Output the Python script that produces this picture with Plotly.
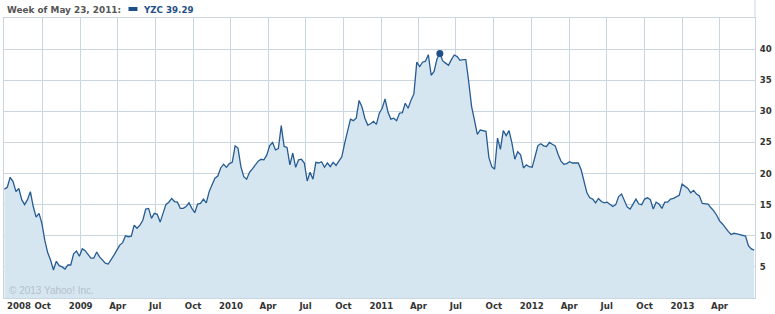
import pandas as pd
import plotly.graph_objects as go

# ---- data (weekly closes) ----
start_week = "2008-06-30"
prices = [
    17.5, 17.8, 19.4, 18.7, 17.1, 17.6, 15.8, 15.0, 15.8, 17.1,
    14.7, 13.0, 13.6, 12.0, 9.3, 7.3, 6.1, 4.5, 5.9, 5.2,
    5.0, 4.65, 5.3, 5.3, 7.1, 7.55, 6.7, 7.9, 7.6, 6.9,
    6.4, 6.4, 7.4, 6.6, 6.1, 5.6, 5.45, 6.1, 6.9, 7.7,
    8.5, 8.9, 10.0, 9.85, 9.95, 11.7, 11.2, 11.7, 12.5, 14.3,
    14.4, 12.8, 13.6, 13.45, 12.2, 13.6, 15.0, 15.4, 16.0, 15.5,
    15.4, 14.4, 14.4, 14.7, 15.3, 14.4, 13.7, 15.1,
    15.2, 15.9, 15.3, 17.1, 18.2, 19.25, 19.6, 20.9, 21.5, 21.0,
    21.6, 21.8, 24.45, 24.1, 21.1, 19.5, 19.1, 20.2, 20.75, 21.4,
    22.0, 22.3, 22.2, 23.0, 24.5, 25.0, 23.8, 24.0, 27.7, 24.35,
    24.2, 21.4, 23.3, 21.0, 22.2, 22.3, 21.7, 18.8, 20.2, 19.1,
    21.8, 21.7, 21.9, 21.0, 21.7, 21.1, 21.8, 21.3, 21.9, 22.7,
    24.9, 27.0, 28.75, 28.5, 28.9, 31.75, 30.7, 28.9, 27.8, 28.0,
    28.4, 27.9, 29.7, 30.5, 32.0,
    29.9, 28.75, 28.9, 28.5, 29.7, 29.8, 31.3, 30.5, 31.8, 32.8,
    37.9, 37.2, 37.9, 38.05, 39.1, 35.8, 36.4, 38.4, 39.29, 38.1,
    37.75, 37.4, 38.3, 39.05, 38.8, 38.2, 38.3, 38.3, 34.8, 30.8,
    28.6, 26.3, 27.0, 26.9, 26.8, 22.6, 21.1, 20.7, 25.7, 23.9,
    26.9, 26.1, 26.9, 24.9, 22.3, 23.5, 23.0, 20.9, 21.4, 21.1,
    21.0, 22.7, 24.5, 24.8, 24.45, 24.35, 25.0, 24.7, 24.45, 23.1,
    22.0, 21.5, 21.6, 21.9, 21.7,
    21.7, 21.7, 20.6, 18.7, 16.9, 16.1, 15.9, 15.3, 16.0, 15.5,
    15.3, 15.4, 15.1, 14.7, 15.0, 16.3, 16.7, 15.6, 14.6, 14.3,
    15.0, 15.9, 15.1, 15.0, 15.9, 16.1, 15.8, 14.3, 15.4, 15.1,
    14.4, 15.4, 15.4, 15.9, 16.0, 16.2, 16.5, 18.3, 18.0, 17.6,
    16.9, 17.3, 16.7, 16.4, 15.2, 15.2, 15.1, 14.5, 14.0, 13.3,
    12.4, 11.9, 11.2, 10.7, 10.2, 10.4, 10.3, 10.2, 10.0, 9.95,
    8.4, 7.9, 7.7,
]
highlight_week = "2011-05-23"
ticker = "YZC"

x_tick_dates = ["2008-10-01", "2009-01-01", "2009-04-01", "2009-07-01", "2009-10-01",
                "2010-01-01", "2010-04-01", "2010-07-01", "2010-10-01",
                "2011-01-01", "2011-04-01", "2011-07-01", "2011-10-01",
                "2012-01-01", "2012-04-01", "2012-07-01", "2012-10-01",
                "2013-01-01", "2013-04-01"]
x_tick_text = ["Oct", "2009", "Apr", "Jul", "Oct", "2010", "Apr", "Jul", "Oct",
               "2011", "Apr", "Jul", "Oct", "2012", "Apr", "Jul", "Oct", "2013", "Apr"]
first_label = "2008"
y_ticks = [5, 10, 15, 20, 25, 30, 35, 40]
x_range = ["2008-06-29", "2013-06-26"]
y_range = [0, 45]

dates = pd.date_range(start_week, periods=len(prices), freq="7D")
hi_idx = list(dates).index(pd.Timestamp(highlight_week))
hi_date, hi_val = dates[hi_idx], prices[hi_idx]

# ---- styling ----
W, H = 775, 314
L, R, T, B = 3, 18, 18, 16
PW, PH = W - L - R, H - T - B


def px(x):
    return (x - L) / PW


def py(y):
    return (H - B - y) / PH


GRID = "#c9d6e0"
FILL = "#d6e6f1"
LINE = "#275c93"
DOT = "#1e4f87"
TICKFONT = dict(family="DejaVu Sans", size=8.6, color="#333333", weight="bold")

fig = go.Figure()
fig.add_trace(go.Scatter(x=dates, y=prices, mode="lines",
                         line=dict(color=LINE, width=1.3),
                         fill="tozeroy", fillcolor=FILL, hoverinfo="skip"))
fig.add_trace(go.Scatter(x=[hi_date], y=[hi_val], mode="markers",
                         marker=dict(color=DOT, size=7), hoverinfo="skip"))

fig.update_layout(
    width=W, height=H, margin=dict(l=L, r=R, t=T, b=B, pad=0),
    paper_bgcolor="white", plot_bgcolor="white", showlegend=False,
    xaxis=dict(type="date", range=x_range, tickvals=x_tick_dates, ticktext=x_tick_text,
               showgrid=True, gridcolor=GRID, gridwidth=1, zeroline=False,
               showline=True, mirror=True, linecolor=GRID, linewidth=1,
               ticks="", tickfont=TICKFONT, fixedrange=True),
    yaxis=dict(range=y_range, side="right", tickvals=y_ticks,
               showgrid=True, gridcolor=GRID, gridwidth=1, zeroline=False,
               showline=True, mirror=True, linecolor=GRID, linewidth=1,
               ticks="", tickfont=TICKFONT, ticklabelstandoff=2, fixedrange=True),
)

# right border continues through the header band
fig.add_shape(type="line", xref="paper", yref="paper", x0=1, x1=1, y0=1, y1=py(0),
              line=dict(color=GRID, width=1))
# legend swatch in header
fig.add_shape(type="rect", xref="paper", yref="paper", x0=px(128), x1=px(137),
              y0=py(11), y1=py(7), fillcolor="#1f4f87", line=dict(width=0))

fig.add_annotation(xref="paper", yref="paper", x=px(4), y=py(9.5), xanchor="left",
                   yanchor="middle", showarrow=False,
                   text=f"Week of {pd.Timestamp(highlight_week):%b %-d, %Y}:",
                   font=dict(family="DejaVu Sans", size=8.9, color="#555555", weight="bold"))
fig.add_annotation(xref="paper", yref="paper", x=px(141), y=py(9.5), xanchor="left",
                   yanchor="middle", showarrow=False,
                   text=f"{ticker} {hi_val:.2f}",
                   font=dict(family="DejaVu Sans", size=8.7, color="#1f4f87", weight="bold"))
fig.add_annotation(xref="paper", yref="paper", x=px(4), y=py(306), xanchor="left",
                   yanchor="middle", showarrow=False, text=first_label, font=TICKFONT)
fig.add_annotation(xref="paper", yref="paper", x=px(6), y=py(290.5), xanchor="left",
                   yanchor="middle", showarrow=False, text="© 2013 Yahoo! Inc.",
                   font=dict(family="Liberation Sans", size=10, color="#b3c1cb"))

fig.write_html("out.html")
